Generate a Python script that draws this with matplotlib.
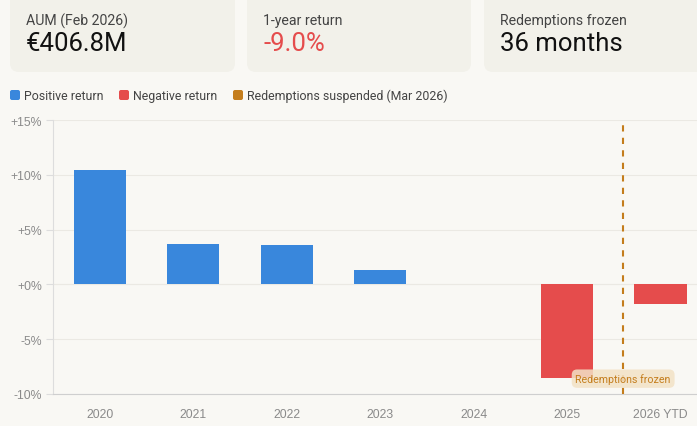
import matplotlib.pyplot as plt
from matplotlib.patches import FancyBboxPatch

# data
years = ['2020', '2021', '2022', '2023', '2024', '2025', '2026 YTD']
returns = [10.4, 3.7, 3.6, 1.3, 0.0, -8.5, -1.8]
yticks = [-10, -5, 0, 5, 10, 15]
ytick_labels = ['-10%', '-5%', '+0%', '+5%', '+10%', '+15%']
suspend_x = 5.6
cards = [('AUM (Feb 2026)', '€406.8M'), ('1-year return', '-9.0%'), ('Redemptions frozen', '36 months')]

BG = '#f9f8f4'
CARD = '#f2f1ea'
BLUE = '#3987dc'
RED = '#e54c4c'
ORANGE = '#c47d1c'
GRID = '#ebe9e3'
TICK = '#8a8a8a'

plt.rcParams['font.family'] = ['Roboto', 'DejaVu Sans']

fig = plt.figure(figsize=(6.97, 4.27), dpi=100, facecolor=BG)

# pixel overlay for cards and legend
bg = fig.add_axes([0, 0, 1, 1], zorder=0)
bg.set_xlim(0, 697)
bg.set_ylim(427, 0)
bg.axis('off')

card_x = [10, 247, 484]
card_w = [225, 224, 240]
for (label, value), x0, w in zip(cards, card_x, card_w):
    bg.add_patch(FancyBboxPatch((x0, -20), w, 93, boxstyle='round,pad=0,rounding_size=9',
                                fc=CARD, ec='none'))
    bg.text(x0 + 16, 21, label, fontsize=10.2, color='#444444', va='center')
    bg.text(x0 + 16, 44, value, fontsize=18.5, va='center',
            color=RED if value.startswith('-') else '#111111')

legend_items = [('Positive return', BLUE, 10), ('Negative return', RED, 119),
                ('Redemptions suspended (Mar 2026)', ORANGE, 233)]
for label, c, x0 in legend_items:
    bg.add_patch(FancyBboxPatch((x0, 91), 10, 10, boxstyle='round,pad=0,rounding_size=2',
                                fc=c, ec='none'))
    bg.text(x0 + 14, 96.5, label, fontsize=8.9, color='#444444', va='center')

ax = fig.add_axes([53 / 697, 1 - 395 / 427, 1 - 53 / 697, (395 - 121) / 427], zorder=1)
ax.set_facecolor('none')

colors = [BLUE if v >= 0 else RED for v in returns]
ax.bar(range(len(years)), returns, width=0.56, color=colors, linewidth=0, zorder=3)

ax.axvline(suspend_x, color=ORANGE, linestyle=(0, (3, 3)), linewidth=1.5, zorder=4)
ax.text(suspend_x, -8.6, 'Redemptions frozen', fontsize=7.7, color=ORANGE,
        ha='center', va='center', zorder=5,
        bbox=dict(boxstyle='round,pad=0.35,rounding_size=0.5', fc='#f3e2c6', ec='none', alpha=0.85))

ax.set_xlim(-0.5, 6.39)
ax.set_ylim(-10, 15)
ax.set_yticks(yticks)
ax.set_yticklabels(ytick_labels, family=['Liberation Sans', 'DejaVu Sans'])
ax.set_xticks(range(len(years)))
ax.set_xticklabels(years, family=['Liberation Sans', 'DejaVu Sans'])
ax.grid(axis='y', color=GRID, linewidth=0.8, zorder=0)
ax.axhline(0, color=GRID, linewidth=0.8, zorder=1)
ax.tick_params(axis='y', colors='#dddddd', labelcolor=TICK, labelsize=8.8, length=5, width=0.8, pad=3)
ax.tick_params(axis='x', length=0, labelcolor=TICK, labelsize=8.8, pad=10)
for side in ['top', 'right']:
    ax.spines[side].set_visible(False)
ax.spines['left'].set_color('#dddddd')
ax.spines['bottom'].set_color('#cfcfcf')

fig.savefig('out.png', dpi=100, facecolor=BG)
